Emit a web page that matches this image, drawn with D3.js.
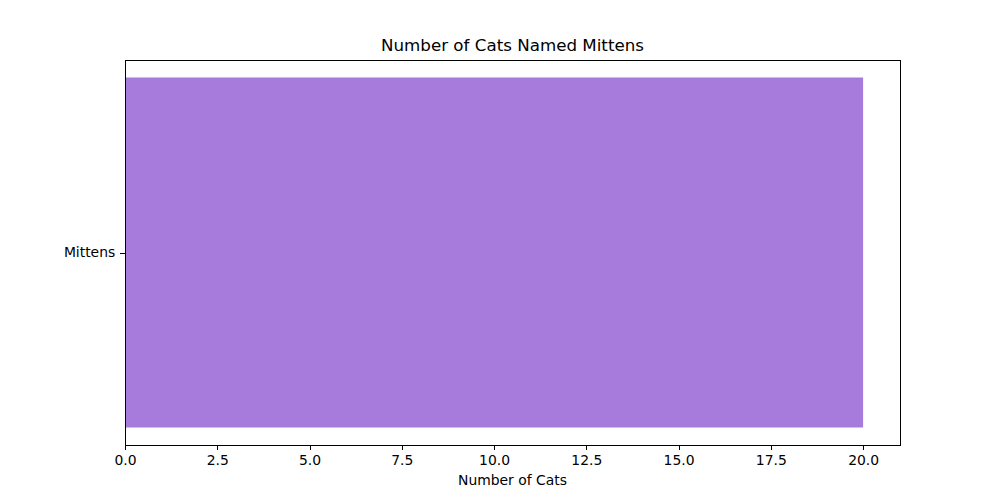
<!DOCTYPE html>
<html lang="en">
<head>
<meta charset="UTF-8">
<script src="https://d3js.org/d3.v7.min.js"></script>
<style>
  body { margin: 0; background: #fff; }
  svg text { font-family: "DejaVu Sans", sans-serif; }
</style>
</head>
<body>
<div id="chart"></div>
<script>
// data
const names = ["Mittens"];
const counts = [20];
const xTicks = [0, 2.5, 5, 7.5, 10, 12.5, 15, 17.5, 20];

const margin = { top: 60, right: 100, bottom: 55, left: 125 },
  width = 1000 - margin.left - margin.right,
  height = 500 - margin.top - margin.bottom;

const svg = d3.select("#chart")
  .append("svg")
  .attr("width", 1000)
  .attr("height", 500)
  .append("g")
  .attr("transform", `translate(${margin.left}, ${margin.top})`);

// x scale with matplotlib-like 5% margin
const x = d3.scaleLinear()
  .domain([0, d3.max(counts) * 1.05])
  .range([0, width]);

// y: bar is 0.8 wide, axis padded by 0.04 on both sides
const y = d3.scaleLinear()
  .domain([-0.44, 0.44])
  .range([height, 0]);

svg.selectAll(".bar")
  .data(names)
  .join("rect")
  .attr("class", "bar")
  .attr("x", x(0))
  .attr("y", (d, i) => y(i + 0.4))
  .attr("width", (d, i) => x(counts[i]) - x(0))
  .attr("height", (d, i) => y(i - 0.4) - y(i + 0.4))
  .style("fill", "#a67bdc");

// x axis
const xAxis = svg.append("g")
  .attr("transform", `translate(0, ${height})`)
  .call(d3.axisBottom(x).tickValues(xTicks).tickFormat(d3.format(".1f")).tickSize(4.9).tickPadding(4.9));
xAxis.select(".domain").remove();
xAxis.selectAll("line").attr("stroke", "#000").attr("shape-rendering", "crispEdges");
xAxis.selectAll("text").style("font-size", "13.9px").attr("fill", "#000");

// y axis
const yAxis = svg.append("g")
  .call(d3.axisLeft(y).tickValues(names.map((d, i) => i)).tickFormat(i => names[i]).tickSize(4.9).tickPadding(4.9));
yAxis.select(".domain").remove();
yAxis.selectAll("line").attr("stroke", "#000").attr("shape-rendering", "crispEdges");
yAxis.selectAll("text").style("font-size", "13.9px").attr("fill", "#000");

// frame
svg.append("rect")
  .attr("width", width)
  .attr("height", height)
  .attr("fill", "none")
  .attr("stroke", "#000")
  .attr("stroke-width", 1)
  .attr("shape-rendering", "crispEdges");

// title
svg.append("text")
  .attr("x", width / 2)
  .attr("y", -9)
  .attr("text-anchor", "middle")
  .style("font-size", "16.7px")
  .text("Number of Cats Named Mittens");

// x label
svg.append("text")
  .attr("x", width / 2)
  .attr("y", height + 40)
  .attr("text-anchor", "middle")
  .style("font-size", "13.9px")
  .text("Number of Cats");
</script>
</body>
</html>
